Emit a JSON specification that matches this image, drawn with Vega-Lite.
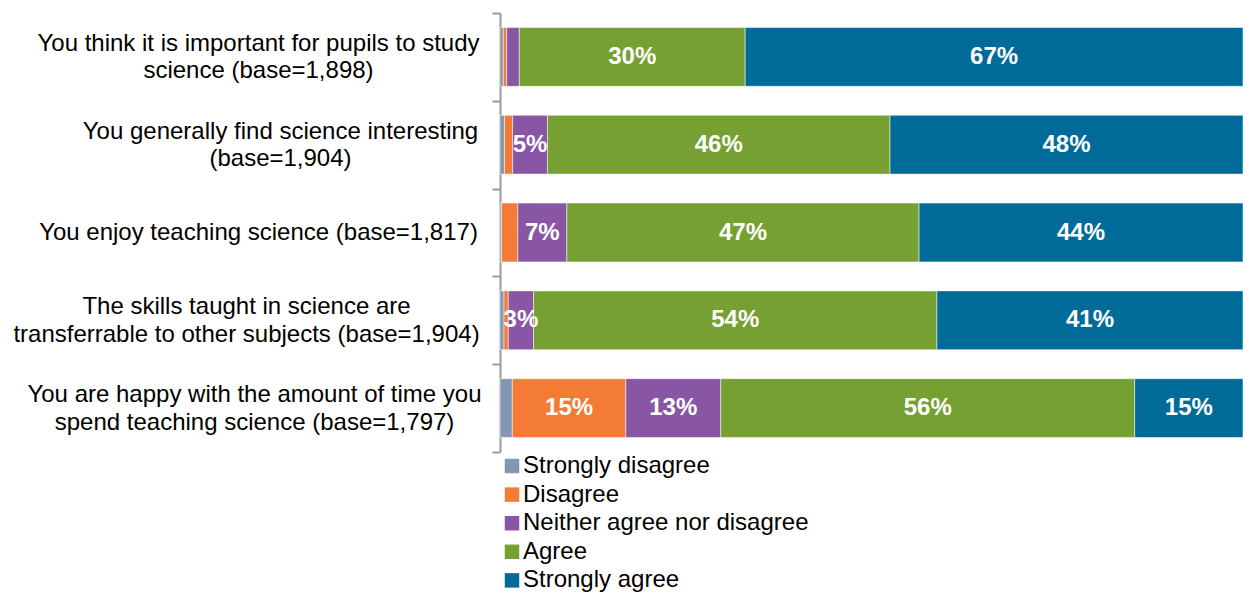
{
  "$schema": "https://vega.github.io/schema/vega-lite/v6.json",
  "width": 743,
  "height": 439,
  "autosize": "none",
  "padding": {"left": 500, "top": 13, "right": 0, "bottom": 141},
  "background": "white",
  "config": {"view": {"stroke": null}, "font": "Liberation Sans"},
  "data": {
    "values": [
      {"q": "q1", "cat": "Strongly disagree", "order": 1, "value": 0.0045},
      {"q": "q1", "cat": "Disagree", "order": 2, "value": 0.0045},
      {"q": "q1", "cat": "Neither agree nor disagree", "order": 3, "value": 0.017},
      {"q": "q1", "cat": "Agree", "order": 4, "value": 0.304},
      {"q": "q1", "cat": "Strongly agree", "order": 5, "value": 0.670},
      {"q": "q2", "cat": "Strongly disagree", "order": 1, "value": 0.006},
      {"q": "q2", "cat": "Disagree", "order": 2, "value": 0.011},
      {"q": "q2", "cat": "Neither agree nor disagree", "order": 3, "value": 0.047},
      {"q": "q2", "cat": "Agree", "order": 4, "value": 0.462},
      {"q": "q2", "cat": "Strongly agree", "order": 5, "value": 0.476},
      {"q": "q3", "cat": "Strongly disagree", "order": 1, "value": 0.002},
      {"q": "q3", "cat": "Disagree", "order": 2, "value": 0.022},
      {"q": "q3", "cat": "Neither agree nor disagree", "order": 3, "value": 0.066},
      {"q": "q3", "cat": "Agree", "order": 4, "value": 0.474},
      {"q": "q3", "cat": "Strongly agree", "order": 5, "value": 0.436},
      {"q": "q4", "cat": "Strongly disagree", "order": 1, "value": 0.0054},
      {"q": "q4", "cat": "Disagree", "order": 2, "value": 0.0058},
      {"q": "q4", "cat": "Neither agree nor disagree", "order": 3, "value": 0.034},
      {"q": "q4", "cat": "Agree", "order": 4, "value": 0.543},
      {"q": "q4", "cat": "Strongly agree", "order": 5, "value": 0.412},
      {"q": "q5", "cat": "Strongly disagree", "order": 1, "value": 0.0166},
      {"q": "q5", "cat": "Disagree", "order": 2, "value": 0.153},
      {"q": "q5", "cat": "Neither agree nor disagree", "order": 3, "value": 0.128},
      {"q": "q5", "cat": "Agree", "order": 4, "value": 0.558},
      {"q": "q5", "cat": "Strongly agree", "order": 5, "value": 0.146}
    ]
  },
  "transform": [
    {"stack": "value", "groupby": ["q"], "sort": [{"field": "order", "order": "ascending"}], "as": ["x0", "x1"], "offset": "normalize"},
    {"calculate": "(datum.x0 + datum.x1) / 2", "as": "mid"}
  ],
  "encoding": {
    "y": {
      "field": "q",
      "type": "nominal",
      "sort": ["q1", "q2", "q3", "q4", "q5"],
      "scale": {"paddingInner": 0, "paddingOuter": 0},
      "axis": {
        "title": null,
        "labelExpr": "datum.value == 'q1' ? ['You think it is important for pupils to study', 'science (base=1,898)'] : datum.value == 'q2' ? ['You generally find science interesting', '(base=1,904)'] : datum.value == 'q3' ? 'You enjoy teaching science (base=1,817)' : datum.value == 'q4' ? ['The skills taught in science are', 'transferrable to other subjects (base=1,904)'] : datum.value == 'q5' ? ['You are happy with the amount of time you', 'spend teaching science (base=1,797)'] : ''",
        "labelFont": "Liberation Sans",
        "labelFontSize": 24,
        "labelColor": "#000000",
        "labelLineHeight": 27.5,
        "labelAlign": "center",
        "labelLimit": 0,
        "labelPadding": {
          "condition": [
            {"test": "datum.value == 'q2'", "value": 212},
            {"test": "datum.value == 'q4'", "value": 246},
            {"test": "datum.value == 'q5'", "value": 238}
          ],
          "value": 234
        },
        "labelOffset": {
          "condition": {"test": "datum.value == 'q3'", "value": 0},
          "value": -13.5
        },
        "tickBand": "extent",
        "tickSize": 8,
        "tickWidth": 2,
        "tickColor": "#9a9a9a",
        "domainColor": "#9a9a9a",
        "domainWidth": 2
      }
    }
  },
  "layer": [
    {
      "mark": {"type": "bar", "height": {"band": 0.67}, "stroke": "#ffffff", "strokeWidth": 1, "strokeOpacity": 0.5},
      "encoding": {
        "x": {"field": "x0", "type": "quantitative", "scale": {"domain": [0, 1], "nice": false}, "axis": null},
        "x2": {"field": "x1"},
        "color": {
          "field": "cat",
          "type": "nominal",
          "scale": {
            "domain": ["Strongly disagree", "Disagree", "Neither agree nor disagree", "Agree", "Strongly agree"],
            "range": ["#8497B0", "#F47B36", "#8856A4", "#77A032", "#006B98"]
          },
          "legend": {
            "title": null,
            "orient": "none",
            "legendX": 0,
            "legendY": 441,
            "padding": 0,
            "symbolType": "square",
            "symbolSize": 210,
            "symbolStrokeWidth": 0,
            "labelFont": "Liberation Sans",
            "labelFontSize": 24,
            "labelColor": "#000000",
            "labelOffset": -1,
            "labelLimit": 0,
            "rowPadding": 4.6
          }
        }
      }
    },
    {
      "transform": [{"filter": "datum.value >= 0.03"}],
      "mark": {"type": "text", "color": "#ffffff", "font": "Liberation Sans", "fontWeight": "bold", "fontSize": 24, "baseline": "middle", "align": "center"},
      "encoding": {
        "x": {"field": "mid", "type": "quantitative"},
        "text": {"field": "value", "type": "quantitative", "format": ".0%"}
      }
    }
  ]
}
